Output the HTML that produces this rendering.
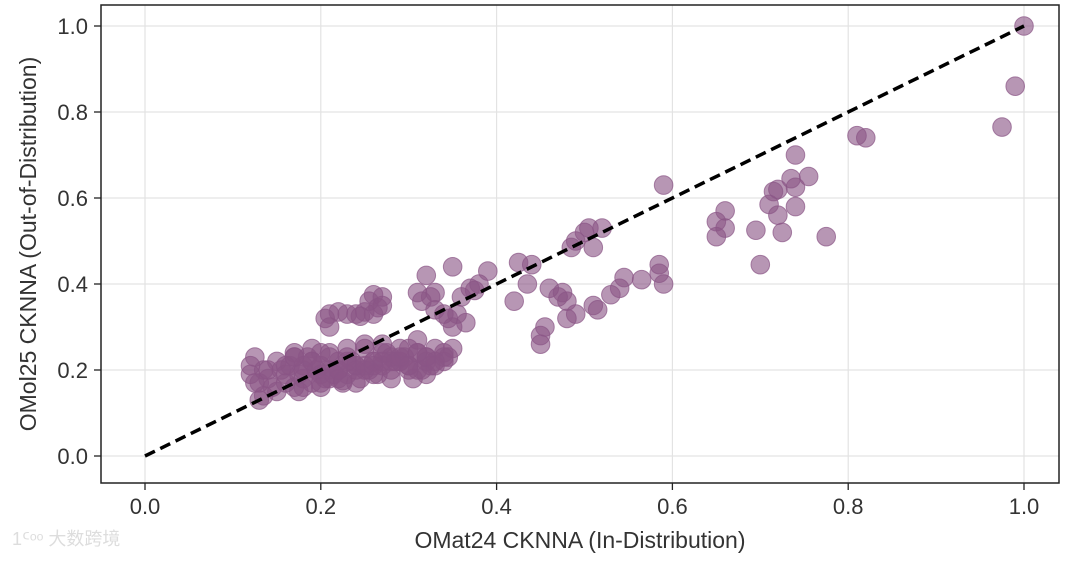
<!DOCTYPE html>
<html><head><meta charset="utf-8">
<style>
body{margin:0;background:#fff;width:1080px;height:557px;overflow:hidden;font-family:"Liberation Sans","Noto Sans CJK SC",sans-serif;}
svg text{font-family:"Liberation Sans","Noto Sans CJK SC",sans-serif;}
</style></head>
<body>
<svg id="chart" width="1080" height="557">
<g id="grid"></g>
<g id="pts"></g>
<g id="ticks"></g>
<rect x="101" y="5" width="958" height="478" fill="none" stroke="#222" stroke-width="1.5"/>
<text x="580" y="548" text-anchor="middle" font-size="23" fill="#333">OMat24 CKNNA (In-Distribution)</text>
<text transform="translate(36,244) rotate(-90)" text-anchor="middle" font-size="23" fill="#333">OMol25 CKNNA (Out-of-Distribution)</text>
<text x="12" y="545" font-size="18" fill="#ddd">1ᑦᵒᵒ 大数跨境</text>
</svg>
<script>
const xTicks=[0,0.2,0.4,0.6,0.8,1.0];
const yTicks=[0,0.2,0.4,0.6,0.8,1.0];
const xVals=[1.0,0.99,0.975,0.81,0.82,0.775,0.74,0.735,0.755,0.74,0.72,0.715,0.74,0.725,0.71,0.72,0.695,0.70,0.66,0.65,0.66,0.65,0.59,0.59,0.585,0.585,0.565,0.545,0.54,0.53,0.51,0.515,0.505,0.50,0.52,0.51,0.49,0.485,0.49,0.48,0.475,0.47,0.48,0.46,0.455,0.45,0.45,0.435,0.44,0.425,0.42,0.39,0.38,0.37,0.375,0.36,0.35,0.365,0.355,0.35,0.345,0.33,0.325,0.32,0.31,0.315,0.33,0.34,
0.21,0.22,0.23,0.24,0.25,0.26,0.27,0.255,0.265,0.245,0.26,0.21,0.205,0.27,
0.12,0.125,0.13,0.12,0.135,0.14,0.15,0.16,0.17,0.18,0.19,0.2,0.21,0.22,0.23,0.24,0.25,0.26,0.27,0.28,0.29,0.3,0.31,0.32,0.33,0.34,0.35,
0.15,0.16,0.17,0.18,0.19,0.2,0.21,0.22,0.23,0.24,0.25,0.26,0.27,0.28,0.29,0.3,0.31,0.32,0.33,0.34,
0.14,0.155,0.165,0.175,0.185,0.195,0.205,0.215,0.225,0.235,0.245,0.255,0.265,0.275,0.285,0.295,0.305,0.315,0.325,
0.13,0.145,0.17,0.19,0.21,0.23,0.25,0.27,0.29,0.31,0.18,0.2,0.22,0.24,0.26,0.28,0.3,0.32,0.345,0.125,0.135,0.175,0.2,0.225,
0.16,0.18,0.2,0.22,0.24,0.26,0.28,0.3,0.32,0.34,0.17,0.19,0.21,0.23,0.25,0.27,0.29,0.31,0.33];
const yVals=[1.0,0.86,0.765,0.745,0.74,0.51,0.70,0.645,0.65,0.625,0.62,0.615,0.58,0.52,0.585,0.56,0.525,0.445,0.57,0.545,0.53,0.51,0.63,0.40,0.445,0.425,0.41,0.415,0.39,0.375,0.35,0.34,0.53,0.52,0.53,0.485,0.50,0.485,0.33,0.32,0.38,0.37,0.36,0.39,0.30,0.28,0.26,0.40,0.445,0.45,0.36,0.43,0.40,0.39,0.385,0.37,0.44,0.31,0.33,0.30,0.32,0.38,0.37,0.42,0.38,0.36,0.34,0.33,
0.33,0.335,0.33,0.33,0.335,0.375,0.37,0.36,0.345,0.325,0.33,0.30,0.32,0.35,
0.19,0.23,0.17,0.21,0.14,0.2,0.22,0.19,0.23,0.21,0.22,0.24,0.2,0.22,0.23,0.21,0.25,0.22,0.24,0.23,0.22,0.25,0.24,0.23,0.25,0.24,0.25,
0.15,0.17,0.16,0.18,0.17,0.19,0.18,0.2,0.19,0.21,0.2,0.22,0.21,0.2,0.22,0.21,0.2,0.19,0.21,0.22,
0.18,0.2,0.21,0.19,0.23,0.2,0.18,0.19,0.17,0.22,0.18,0.2,0.19,0.24,0.22,0.23,0.18,0.2,0.21,
0.13,0.16,0.24,0.25,0.24,0.25,0.26,0.26,0.25,0.27,0.16,0.17,0.18,0.17,0.19,0.18,0.2,0.22,0.23,0.17,0.2,0.15,0.16,0.175,
0.21,0.2,0.21,0.2,0.2,0.21,0.22,0.21,0.23,0.23,0.23,0.22,0.23,0.22,0.21,0.22,0.23,0.24,0.22];
const NS="http://www.w3.org/2000/svg";
const X=v=>145+v*879, Y=v=>456-v*430;
const g=document.getElementById('grid'),t=document.getElementById('ticks'),p=document.getElementById('pts');
function mk(tag,a,par){const e=document.createElementNS(NS,tag);for(const k in a)e.setAttribute(k,a[k]);par.appendChild(e);return e;}
xTicks.forEach(v=>{
 const l=mk('line',{x1:X(v),x2:X(v),y1:5,y2:483,stroke:'#e3e3e3','stroke-width':1.2},g);
 
 
 const tk=mk('line',{x1:X(v),x2:X(v),y1:483,y2:490,stroke:'#222','stroke-width':1.3},t);
 
 
 const tx=mk('text',{x:X(v),y:514,'text-anchor':'middle','font-size':22,fill:'#333'},t);tx.textContent=v.toFixed(1);
 
 
});
yTicks.forEach(v=>{
 const l=mk('line',{x1:101,x2:1059,y1:Y(v),y2:Y(v),stroke:'#e3e3e3','stroke-width':1.2},g);
 
 
 const tk=mk('line',{x1:94,x2:101,y1:Y(v),y2:Y(v),stroke:'#222','stroke-width':1.3},t);
 
 
 const tx=mk('text',{x:88,y:Y(v)+8,'text-anchor':'end','font-size':22,fill:'#333'},t);tx.textContent=v.toFixed(1);
 
 
});
xVals.forEach((xv,i)=>{
 const c=mk('circle',{cx:X(xv),cy:Y(yVals[i]),r:9.3,fill:'#8a5686','fill-opacity':0.62,stroke:'#8a5686','stroke-opacity':0.7,'stroke-width':1},p);
 
 
});
const d=mk('line',{x1:X(0),y1:Y(0),x2:X(1),y2:Y(1),stroke:'#000','stroke-width':3.5,'stroke-dasharray':'11,6'},p);


</script>
</body></html>
